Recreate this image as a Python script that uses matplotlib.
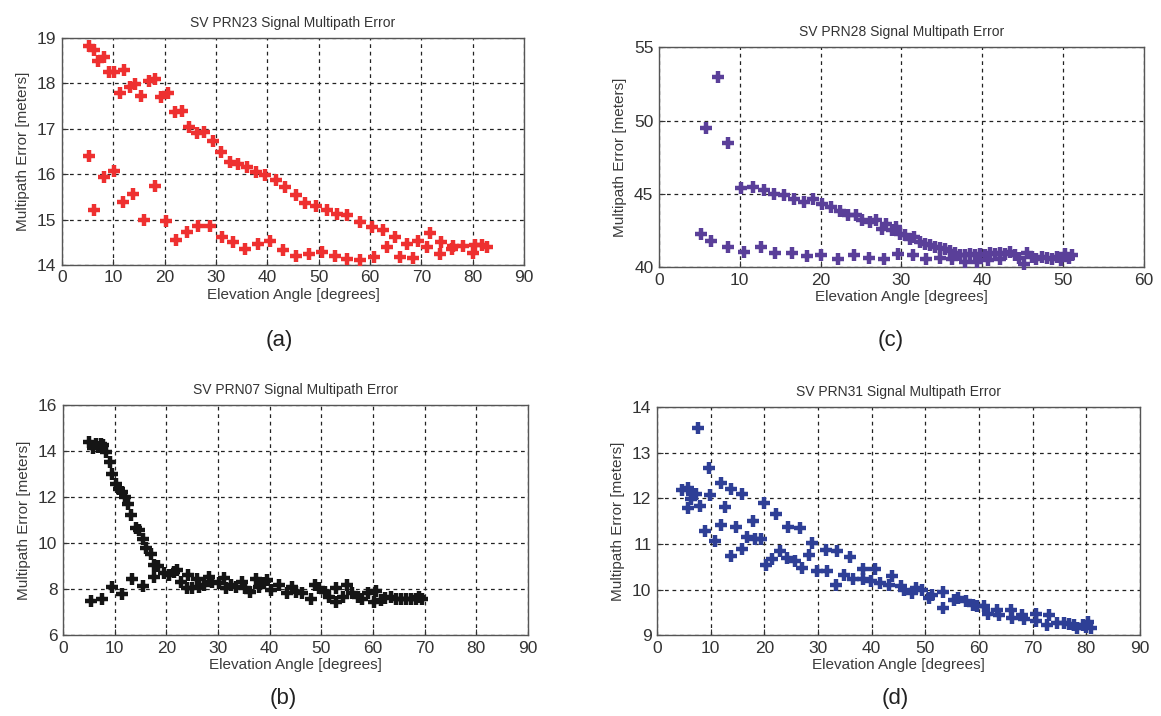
import matplotlib
matplotlib.use("Agg")
import matplotlib.pyplot as plt

plt.rcParams['font.family'] = ['Liberation Sans', 'DejaVu Sans']

# (a) SV PRN23
a_x = [5.2, 6.2, 7.1, 8.1, 9.1, 10.1, 11.2, 12.0, 13.3, 14.2, 15.4, 16.9, 18.1, 19.2, 20.6,
       22.1, 23.4, 24.8, 26.3, 27.6, 29.4, 31.0, 32.7, 34.2, 36.0, 37.7, 39.6, 41.6, 43.4,
       45.6, 47.4, 49.5, 51.6, 53.6, 55.6, 58.1, 60.3, 62.5, 64.8, 67.1, 69.4, 71.6, 73.9,
       76.2, 78.2, 80.5, 81.8, 82.8,
       5.2, 6.3, 8.2, 10.1, 11.9, 13.8, 15.9, 18.1, 20.3, 22.3, 24.4, 26.5, 28.9, 31.2, 33.4,
       35.7, 38.2, 40.6, 43.0, 45.5, 48.1, 50.6, 53.1, 55.5, 58.1, 60.8, 63.3, 65.8, 68.4,
       71.0, 73.6, 75.9, 80.1]
a_y = [18.83, 18.73, 18.50, 18.57, 18.24, 18.26, 17.79, 18.29, 17.93, 17.98, 17.72, 18.05,
       18.09, 17.70, 17.79, 17.36, 17.39, 17.03, 16.90, 16.93, 16.72, 16.48, 16.27, 16.23,
       16.16, 16.05, 15.98, 15.87, 15.72, 15.55, 15.37, 15.30, 15.22, 15.13, 15.10, 14.94,
       14.83, 14.76, 14.61, 14.46, 14.53, 14.70, 14.50, 14.41, 14.42, 14.44, 14.44, 14.40,
       16.39, 15.20, 15.93, 16.07, 15.39, 15.57, 14.99, 15.74, 14.96, 14.55, 14.72, 14.85,
       14.85, 14.61, 14.50, 14.35, 14.46, 14.53, 14.33, 14.20, 14.24, 14.29, 14.20, 14.14,
       14.11, 14.18, 14.40, 14.18, 14.16, 14.40, 14.24, 14.34, 14.27]

# (c) SV PRN28
c_x = [7.3, 5.8, 8.6,
       10.2, 11.6, 13.0, 14.2, 15.5, 16.7, 18.0, 19.0, 20.2, 21.3, 22.4, 23.4, 24.4, 25.1,
       26.1, 26.9, 27.6, 28.1, 28.8, 29.3, 29.8, 30.4, 31.0, 31.6, 32.3, 32.9, 33.5, 34.1,
       34.8, 35.4, 36.0, 36.6, 37.2, 37.9, 38.5, 39.1, 39.7, 40.3, 41.0, 41.6, 42.2, 42.8,
       43.4, 44.0, 44.5, 45.1, 45.5, 46.1, 46.7, 47.4, 48.0, 48.6, 49.2, 49.8, 50.2, 50.7, 51.1,
       5.2, 6.4, 8.5, 10.5, 12.6, 14.3, 16.4, 18.3, 20.1, 22.2, 24.1, 26.0, 27.8, 29.6, 31.4,
       33.0, 34.8, 36.2, 37.9, 39.3, 40.7, 42.2]
c_y = [52.95, 49.48, 48.45,
       45.39, 45.45, 45.27, 45.00, 44.89, 44.66, 44.43, 44.66, 44.32, 44.09, 43.86, 43.57,
       43.52, 43.18, 43.07, 43.18, 42.61, 42.95, 42.50, 42.73, 42.27, 42.20, 41.93, 42.05,
       41.70, 41.60, 41.48, 41.36, 41.30, 41.25, 41.07, 40.98, 40.84, 40.80, 40.91, 40.80,
       40.91, 40.80, 40.98, 40.91, 40.98, 40.91, 41.02, 40.80, 40.61, 40.23, 40.98, 40.68,
       40.57, 40.68, 40.61, 40.52, 40.68, 40.45, 40.91, 40.61, 40.80,
       42.27, 41.77, 41.36, 41.02, 41.36, 40.98, 40.98, 40.73, 40.80, 40.52, 40.80, 40.61,
       40.52, 40.91, 40.80, 40.52, 40.61, 40.52, 40.34, 40.34, 40.45, 40.57]

# (b) SV PRN07
b_x = [5.0, 5.8, 6.3, 6.8, 7.3, 7.7, 8.3, 9.0, 9.5, 10.2, 10.8, 11.5, 12.0, 12.6, 13.2,
       14.2, 14.7, 15.4, 16.1, 17.0, 17.6, 18.4, 19.5, 20.5, 21.5, 22.1, 22.8, 23.9, 24.1,
       25.0, 26.0, 26.3, 27.3, 28.3, 28.9, 30.2, 31.2, 31.5, 32.5, 33.4, 34.7, 35.2, 36.1,
       37.3, 37.9, 38.9, 39.5, 40.2, 41.8, 43.4, 44.3, 45.0, 46.3, 47.9, 48.8, 49.5, 50.8,
       51.5, 52.9, 52.8, 54.1, 55.0, 56.0, 57.0, 57.9, 59.1, 60.2, 60.6, 61.5, 62.3, 63.4,
       64.4, 65.4, 66.3, 67.3, 68.3, 68.9, 69.5,
       5.5, 7.5, 9.5, 11.4, 13.4, 15.5, 17.6]
b_y = [14.41, 14.12, 14.33, 14.19, 14.33, 14.26, 13.97, 13.54, 13.03, 12.59, 12.35, 12.23,
       12.01, 11.72, 11.22, 10.64, 10.57, 10.17, 9.77, 9.55, 9.04, 9.01, 8.68, 8.61, 8.75,
       8.83, 8.32, 8.03, 8.61, 8.03, 8.46, 8.10, 8.17, 8.54, 8.32, 8.25, 8.49, 8.03, 8.17,
       8.10, 8.32, 8.03, 7.88, 8.46, 8.10, 8.25, 8.39, 7.96, 8.17, 7.81, 8.10, 7.88, 7.81,
       7.59, 8.17, 8.03, 7.88, 7.67, 8.03, 7.45, 7.67, 8.17, 7.81, 7.67, 7.59, 7.81, 7.45,
       7.91, 7.52, 7.62, 7.67, 7.59, 7.59, 7.59, 7.59, 7.57, 7.67, 7.59,
       7.49, 7.59, 8.10, 7.77, 8.46, 8.13, 8.54]

# (d) SV PRN31
d_x = [7.6, 9.6, 4.6, 5.8, 6.5, 7.3, 6.3, 5.7, 8.0, 9.9, 8.9, 10.8, 11.9, 13.7, 15.8, 12.6,
       11.9, 14.7, 13.7, 15.8, 17.8, 16.8, 18.3, 19.3, 19.9, 20.4, 21.5, 22.2, 22.9, 24.3,
       24.5, 25.8, 26.6, 27.1, 28.8, 28.4, 29.9, 31.4, 31.6, 33.6, 33.3, 34.8, 36.0, 36.5,
       38.3, 38.3, 39.8, 40.7, 41.5, 43.2, 43.7, 45.4, 46.0, 47.5, 48.2, 49.3, 50.7, 51.3,
       53.3, 53.2, 55.3, 56.0, 57.5, 58.8, 59.7, 60.9, 61.7, 63.4, 63.7, 65.9, 66.2, 68.1,
       68.4, 70.6, 70.6, 72.6, 73.0, 74.6, 75.8, 76.8, 77.7, 78.3, 79.3, 79.9, 80.4, 80.8]
d_y = [13.54, 12.68, 12.18, 12.24, 12.10, 12.10, 11.99, 11.79, 11.83, 12.07, 11.28, 11.06,
       12.35, 12.20, 12.10, 11.82, 11.41, 11.38, 10.73, 10.89, 11.51, 11.15, 11.12, 11.10,
       11.90, 10.54, 10.68, 11.66, 10.84, 10.69, 11.38, 10.62, 11.35, 10.47, 11.02, 10.76,
       10.41, 10.86, 10.41, 10.85, 10.10, 10.32, 10.71, 10.24, 10.45, 10.24, 10.18, 10.46,
       10.14, 10.10, 10.29, 10.07, 9.99, 9.92, 10.03, 9.99, 9.82, 9.88, 9.94, 9.59, 9.77,
       9.81, 9.74, 9.66, 9.63, 9.63, 9.46, 9.55, 9.44, 9.55, 9.38, 9.44, 9.35, 9.46, 9.31,
       9.22, 9.44, 9.26, 9.26, 9.24, 9.22, 9.16, 9.22, 9.18, 9.29, 9.16]

panels = [
    # rect, x, y, colour, title, xlim, ylim, xticks, yticks, letter, letter position
    ([0.0534, 0.630, 0.398, 0.317], a_x, a_y, '#ee3030', 'SV PRN23 Signal Multipath Error',
     (0, 90), (14, 19), range(0, 91, 10), range(14, 20), '(a)', (0.241, 0.525)),
    ([0.5676, 0.627, 0.4177, 0.307], c_x, c_y, '#5a3f99', 'SV PRN28 Signal Multipath Error',
     (0, 60), (40, 55), range(0, 61, 10), range(40, 56, 5), '(c)', (0.767, 0.525)),
    ([0.0543, 0.113, 0.4005, 0.321], b_x, b_y, '#151515', 'SV PRN07 Signal Multipath Error',
     (0, 90), (6, 16), range(0, 91, 10), range(6, 17, 2), '(b)', (0.244, 0.025)),
    ([0.5659, 0.113, 0.416, 0.318], d_x, d_y, '#2e3f96', 'SV PRN31 Signal Multipath Error',
     (0, 90), (9, 14), range(0, 91, 10), range(9, 15), '(d)', (0.771, 0.025)),
]

fig = plt.figure(figsize=(11.61, 7.16), dpi=100)

for rect, xs, ys, col, title, xlim, ylim, xt, yt, letter, lpos in panels:
    ax = fig.add_axes(rect)
    ax.plot(xs, ys, linestyle='none', marker='+', markersize=9, markeredgewidth=3.2,
            color=col, clip_on=False, zorder=3)
    ax.set_xlim(xlim)
    ax.set_ylim(ylim)
    ax.set_xticks(list(xt))
    ax.set_yticks(list(yt))
    ax.grid(True, color='#222222', linestyle=(0, (3, 3)), linewidth=0.9)
    ax.tick_params(direction='in', length=4, labelsize=12.5, colors='#333333',
                   labelcolor='#333333', pad=4)
    for s in ax.spines.values():
        s.set_color('#555555')
        s.set_linewidth(1.0)
    ax.set_title(title, fontsize=10, color='#333333', pad=8)
    ax.set_xlabel('Elevation Angle [degrees]', fontsize=11, color='#3a3a3a', labelpad=2)
    ax.set_ylabel('Multipath Error [meters]', fontsize=11, color='#3a3a3a', labelpad=5)
    fig.text(lpos[0], lpos[1], letter, fontsize=16, color='#222222', ha='center', va='center')

fig.savefig('out.png', dpi=100)
